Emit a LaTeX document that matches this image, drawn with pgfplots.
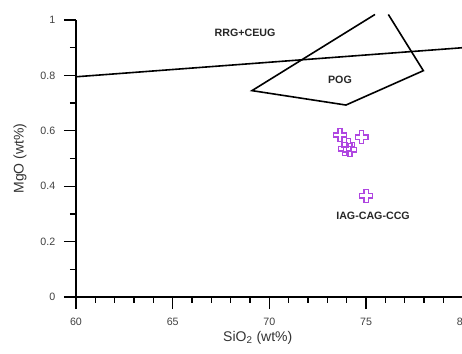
\documentclass[border=0pt]{standalone}
\usepackage{fontspec}
\setmainfont{Liberation Sans}
\usepackage{pgfplots}
\pgfplotsset{compat=1.18}
\definecolor{mk}{RGB}{175,70,225}
\pgfdeclareplotmark{ocross}{%
  \pgfmathsetlengthmacro{\r}{\pgfplotmarksize}%
  \pgfmathsetlengthmacro{\a}{0.33*\pgfplotmarksize}%
  \pgfpathmoveto{\pgfqpoint{-\a}{\r}}%
  \pgfpathlineto{\pgfqpoint{\a}{\r}}%
  \pgfpathlineto{\pgfqpoint{\a}{\a}}%
  \pgfpathlineto{\pgfqpoint{\r}{\a}}%
  \pgfpathlineto{\pgfqpoint{\r}{-\a}}%
  \pgfpathlineto{\pgfqpoint{\a}{-\a}}%
  \pgfpathlineto{\pgfqpoint{\a}{-\r}}%
  \pgfpathlineto{\pgfqpoint{-\a}{-\r}}%
  \pgfpathlineto{\pgfqpoint{-\a}{-\a}}%
  \pgfpathlineto{\pgfqpoint{-\r}{-\a}}%
  \pgfpathlineto{\pgfqpoint{-\r}{\a}}%
  \pgfpathlineto{\pgfqpoint{-\a}{\a}}%
  \pgfpathclose
  \pgfusepathqstroke
}
\begin{document}
\begin{tikzpicture}
\begin{axis}[
  scale only axis, width=290.1pt, height=207.75pt,
  xmin=60, xmax=80, ymin=0, ymax=1,
  axis lines*=left,
  tick align=outside,
  major tick length=9pt, minor tick length=4.5pt,
  xtick={60,65,70,75,80}, ytick={0,0.2,0.4,0.6,0.8,1},
  minor x tick num=4, minor y tick num=1,
  every tick/.style={black, line width=1pt},
  axis line style={line width=1pt},
  tick label style={font=\fontsize{8}{9}\selectfont, text=black!75},
  xticklabel style={yshift=-3pt},
  yticklabel style={xshift=-3pt},
  /pgf/number format/assume math mode=true,
  xlabel={SiO\textsubscript{2} (wt\%)}, ylabel={MgO (wt\%)},
  label style={font=\fontsize{10.5}{12}\selectfont, text=black!80},
  xlabel style={at={(axis description cs:0.47,-0.148)}, anchor=center},
  ylabel style={at={(axis description cs:-0.145,0.5)}, anchor=center},
  clip=false,
]
\coordinate (O) at (axis cs:60,0);
\addplot[black, line width=1.2pt] coordinates {(60,0.795) (80,0.900)};
\addplot[black, line width=1.2pt] coordinates {(76.15,1.02) (77.96,0.817) (73.96,0.693) (69.1,0.745) (75.46,1.02)};
\addplot[only marks, mark=ocross, mark size=4.8pt, mk, line width=1pt] coordinates {
  (73.65,0.585) (74.77,0.577) (74.08,0.549) (74.17,0.531) (73.9,0.535) (75.0,0.365)};
\node[font=\bfseries\fontsize{8}{9}\selectfont, text=black!85] at (axis cs:68.74,0.952) {RRG+CEUG};
\node[font=\bfseries\fontsize{8}{9}\selectfont, text=black!85] at (axis cs:73.65,0.783) {POG};
\node[font=\bfseries\fontsize{8}{9}\selectfont, text=black!85] at (axis cs:75.36,0.292) {IAG-CAG-CCG};
\end{axis}
\pgfresetboundingbox
\path[use as bounding box] ([xshift=-57pt,yshift=-42.75pt]O) rectangle ([xshift=289.5pt,yshift=222.75pt]O);
\end{tikzpicture}
\end{document}
